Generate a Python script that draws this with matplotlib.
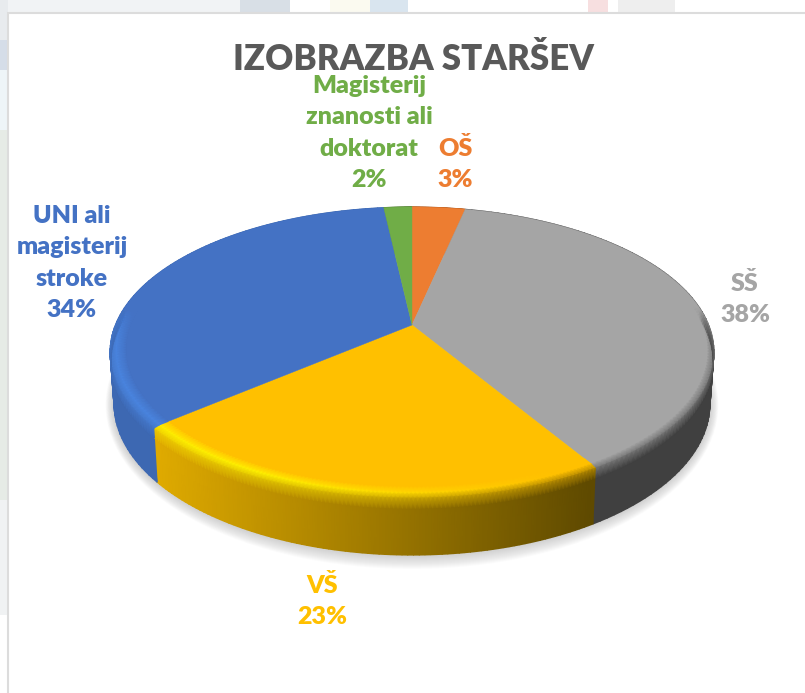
# 3D style pie chart, izobrazba starsev
import numpy as np
import matplotlib
matplotlib.use('Agg')
import matplotlib.pyplot as plt
from matplotlib.patches import Ellipse, Rectangle
from matplotlib.colors import to_rgb

categories = ['OŠ', 'SŠ', 'VŠ', 'UNI ali\nmagisterij\nstroke', 'Magisterij\nznanosti ali\ndoktorat']
values = [3.4, 37.9, 22.6, 34.3, 1.8]
colors = ['#ED7D31', '#A5A5A5', '#FFC000', '#4472C4', '#70AD47']
label_xy = [(455, 164), (745, 299), (322, 601), (72, 263), (369, 133)]
side_left = ['#C05F20', '#404040', '#DFAA00', '#3D68B2', '#5A8A38']
side_right = ['#A05018', '#404040', '#5F4A00', '#36609F', '#4F7A30']

# perspective of the pie disc, pixels
cx, cy = 412, 325
R, A, c = 296.7, 140, 0.186
top_ell = (350, 302, 144)
bot_ell = (402, 298, 150)

fig = plt.figure(figsize=(8.05, 6.93), dpi=100)
ax = fig.add_axes([0, 0, 1, 1])
ax.set_xlim(0, 805)
ax.set_ylim(693, 0)
ax.axis('off')


def project(t, r=1.0, z=0.0):
    u, v = r * np.sin(t), r * np.cos(t)
    w = 1 + c * v
    x = cx + R * u / w
    y = cy - A * v / w
    nx = (x - cx) / top_ell[1]
    ny = (y - top_ell[0]) / top_ell[2]
    xb = cx + bot_ell[1] * nx
    yb = bot_ell[0] + bot_ell[2] * ny
    return x + (xb - x) * z, y + (yb - y) * z


def lerp(a, b, f):
    a, b = np.array(a), np.array(b)
    f = np.asarray(f)[..., None]
    return a + (b - a) * f


# faint slide picture behind the card
ax.add_patch(Rectangle((0, 0), 805, 693, fc='white', ec='none'))
ax.add_patch(Rectangle((0, 0), 240, 13, fc='#f1f3f5', ec='none'))
ax.add_patch(Rectangle((240, 0), 50, 13, fc='#d8dfe6', ec='none'))
ax.add_patch(Rectangle((330, 0), 40, 13, fc='#fbfaf0', ec='none'))
ax.add_patch(Rectangle((370, 0), 38, 13, fc='#d9e5ef', ec='none'))
ax.add_patch(Rectangle((588, 0), 20, 13, fc='#f7dfe0', ec='none'))
ax.add_patch(Rectangle((618, 0), 57, 13, fc='#eeeeee', ec='none'))
ax.add_patch(Rectangle((0, 0), 8, 40, fc='#e8ebee', ec='none'))
ax.add_patch(Rectangle((0, 40), 8, 30, fc='#d5dde8', ec='none'))
ax.add_patch(Rectangle((0, 70), 8, 60, fc='#eef5f8', ec='none'))
ax.add_patch(Rectangle((0, 130), 8, 370, fc='#e6ebe6', ec='none'))
ax.add_patch(Rectangle((0, 500), 8, 115, fc='#f0f2f3', ec='none'))
ax.add_patch(Rectangle((8, 13), 800, 690, fc='white', ec='#dcdcdc', lw=1.5))

# soft shadow under the disc
for i in range(14):
    grow = 14 * (1 - i / 14)
    ax.add_patch(Ellipse((cx, bot_ell[0] + 3), 2 * (bot_ell[1] + grow * 0.6), 2 * (bot_ell[2] + grow),
                         fc='#808080', ec='none', alpha=0.027))

edges = np.cumsum([0] + values) / sum(values) * 2 * np.pi

# side wall
for i in range(len(values)):
    t = np.linspace(edges[i], edges[i + 1], 90)
    zz = np.array([0.0, 1.0])
    X = np.array([project(t, 1.0, z)[0] for z in zz])
    Y = np.array([project(t, 1.0, z)[1] for z in zz])
    f = np.clip((X - 160) / 430, 0, 1)
    C = lerp(to_rgb(side_left[i]), to_rgb(side_right[i]), f)
    ax.pcolormesh(X, Y, C, shading='gouraud', zorder=2)

# flat top
for i in range(len(values)):
    t = np.linspace(edges[i], edges[i + 1], 120)
    x, y = project(t)
    ax.fill(np.r_[cx, x], np.r_[cy, y], fc=colors[i], ec=colors[i], lw=0.3, zorder=3)

# bevel on the front rim
levels = [(0.95, 0.0), (0.98, 0.0), (1.0, 0.02), (1.0, 0.2)]
for i in range(len(values)):
    t = np.linspace(edges[i], edges[i + 1], 120)
    X = np.array([project(t, r, z)[0] for r, z in levels])
    Y = np.array([project(t, r, z)[1] for r, z in levels])
    base = np.array(to_rgb(colors[i]))
    glow = np.clip(base * 1.12 + np.array([0.04, 0.10, 0.0]), 0, 1)
    if i == 3:
        glow = np.array(to_rgb('#4A85E0'))
    if i == 1:
        glow = base
    f = np.clip((X[3] - 160) / 430, 0, 1)
    side = lerp(to_rgb(side_left[i]), to_rgb(side_right[i]), f)
    h = np.clip((560 - X[1]) / 300, 0, 1)
    C = np.zeros(X.shape + (4,))
    C[0, :, :3] = base
    C[1, :, :3] = lerp(base, glow, h)
    C[2, :, :3] = (C[1, :, :3] + side) / 2
    C[3, :, :3] = side
    alpha = np.clip((0.12 - np.cos(t)) / 0.3, 0, 1)
    C[:, :, 3] = alpha
    ax.pcolormesh(X, Y, C, shading='gouraud', zorder=4)

ax.text(413, 59, 'IZOBRAZBA STARŠEV', family='Lato', weight=800, fontsize=25,
        color='#595959', ha='center', va='center', zorder=6)

for name, val, col, (lx, ly) in zip(categories, values, colors, label_xy):
    ax.text(lx, ly, f'{name}\n{round(val)}%', family='Lato', weight=800, fontsize=18,
            color=col, ha='center', va='center', linespacing=1.53, zorder=6)

plt.savefig('out.png', dpi=100)
